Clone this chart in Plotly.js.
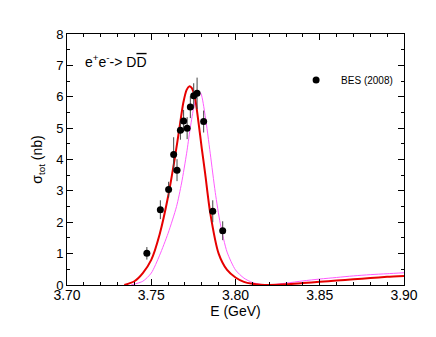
<!DOCTYPE html>
<html>
<head>
<meta charset="utf-8">
<script src="https://cdn.plot.ly/plotly-3.0.1.min.js"></script>
<style>body{margin:0;background:#fff;}</style>
</head>
<body>
<div id="plot" style="width:436px;height:337px;"></div>
<script>
// BES (2008) measured points
var besE   = [3.7474, 3.7554, 3.7603, 3.7633, 3.7653, 3.7673, 3.7692, 3.7713, 3.7732, 3.7752, 3.7772, 3.7811, 3.7865, 3.7924];
var besSig = [1.01, 2.40, 3.04, 4.16, 3.66, 4.93, 5.23, 5.00, 5.67, 6.03, 6.11, 5.21, 2.35, 1.73];
var besErr = [0.20, 0.30, 0.25, 0.55, 0.35, 0.30, 0.35, 0.35, 0.35, 0.40, 0.50, 0.35, 0.35, 0.30];

// red fit curve
var redE   = [3.734, 3.740, 3.745, 3.750, 3.755, 3.760, 3.764, 3.767, 3.769, 3.771, 3.7725, 3.774, 3.776, 3.778, 3.780, 3.782, 3.785, 3.790, 3.795, 3.800, 3.805, 3.810, 3.815, 3.820, 3.830, 3.840, 3.850, 3.860, 3.870, 3.880, 3.890, 3.900];
var redSig = [0.00, 0.12, 0.38, 0.80, 1.62, 2.82, 4.05, 5.10, 5.80, 6.22, 6.33, 6.28, 5.95, 5.20, 4.35, 3.55, 2.30, 1.00, 0.48, 0.24, 0.10, 0.04, 0.01, 0.00, 0.02, 0.06, 0.10, 0.14, 0.18, 0.22, 0.26, 0.29];

// magenta fit curve
var magE   = [3.738, 3.745, 3.750, 3.755, 3.760, 3.765, 3.768, 3.771, 3.773, 3.775, 3.777, 3.778, 3.7795, 3.782, 3.785, 3.788, 3.791, 3.795, 3.800, 3.805, 3.810, 3.815, 3.820, 3.830, 3.840, 3.850, 3.860, 3.870, 3.880, 3.890, 3.900];
var magSig = [0.00, 0.12, 0.38, 0.95, 1.65, 2.50, 3.25, 4.20, 4.95, 5.60, 6.05, 6.18, 6.10, 5.40, 4.20, 2.95, 1.95, 1.05, 0.48, 0.22, 0.08, 0.02, 0.00, 0.06, 0.13, 0.19, 0.24, 0.29, 0.33, 0.36, 0.39];

var traceMag = {
  x: magE, y: magSig, mode: 'lines', showlegend: false, hoverinfo: 'skip',
  line: {color: '#ff5cff', width: 1, shape: 'spline', smoothing: 0.7}
};
var traceRed = {
  x: redE, y: redSig, mode: 'lines', showlegend: false, hoverinfo: 'skip',
  line: {color: '#e60000', width: 2, shape: 'spline', smoothing: 0.7}
};
var traceBes = {
  x: besE, y: besSig, mode: 'markers', name: 'BES (2008)',
  marker: {color: 'black', size: 7},
  error_y: {type: 'data', array: besErr, visible: true, color: '#444', thickness: 1, width: 0}
};

var axisStyle = {
  showline: true, linecolor: 'black', linewidth: 1, mirror: 'ticks',
  ticks: 'inside', ticklen: 6, tickcolor: 'black', showgrid: false, zeroline: false
};

var layout = {
  width: 436, height: 337,
  margin: {l: 67, r: 32, t: 34, b: 52},
  paper_bgcolor: 'white', plot_bgcolor: 'white',
  font: {family: 'Liberation Sans, Arial, sans-serif', color: 'black', size: 14},
  xaxis: Object.assign({}, axisStyle, {
    range: [3.70, 3.90], dtick: 0.05, tick0: 3.70, tickformat: '.2f',
    minor: {dtick: 0.01, ticks: 'inside', ticklen: 3, tickcolor: 'black'},
    tickfont: {size: 14}, ticklabelstandoff: -3,
    title: {text: 'E (GeV)', font: {size: 14}, standoff: 0}
  }),
  yaxis: Object.assign({}, axisStyle, {
    range: [0, 8], dtick: 1, tick0: 0,
    minor: {dtick: 0.5, ticks: 'inside', ticklen: 3, tickcolor: 'black'},
    tickfont: {size: 13},
    title: {text: '\u03c3<sub>tot</sub> (nb)', font: {size: 14}, standoff: 10}
  }),
  showlegend: true,
  legend: {x: 0.665, y: 0.875, xanchor: 'left', yanchor: 'top', bgcolor: 'rgba(0,0,0,0)',
           font: {size: 10}, itemwidth: 40},
  annotations: [{
    x: 3.7095, y: 7.14, xref: 'x', yref: 'y', xanchor: 'left', showarrow: false,
    text: 'e<sup>+</sup>e<sup>-</sup>-> D<span style="text-decoration:overline">D</span>',
    font: {size: 14}
  }]
};

Plotly.newPlot('plot', [traceMag, traceRed, traceBes], layout, {staticPlot: true});
</script>
</body>
</html>
